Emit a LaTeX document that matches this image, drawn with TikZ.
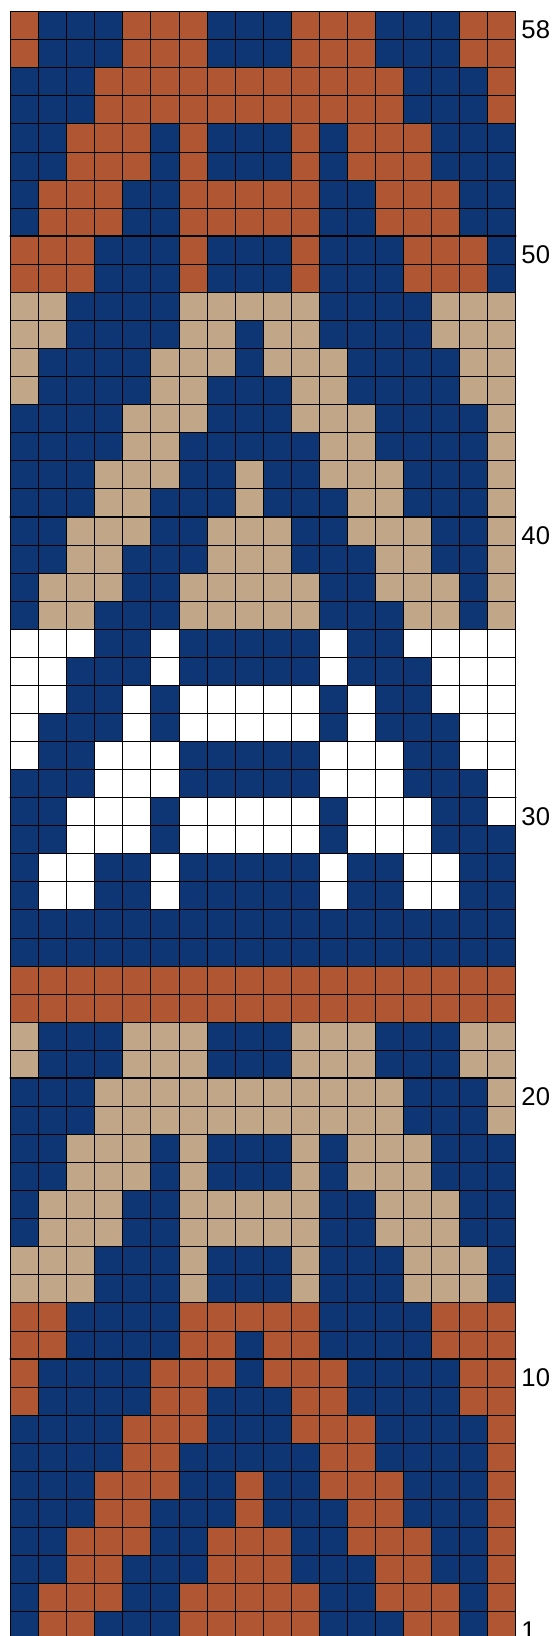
\documentclass[tikz,border=0pt]{standalone}
\usepackage{fontspec}
\setmainfont{Liberation Sans}
\usepackage{tikz}
\usepackage{xcolor}
\definecolor{yarnR}{HTML}{B05633}
\definecolor{yarnN}{HTML}{0E3574}
\definecolor{yarnS}{HTML}{C1A787}
\definecolor{yarnW}{HTML}{FFFFFF}

\begin{document}
\begin{tikzpicture}[scale=1.0, line cap=round, line join=round,
	rowlabel/.style={anchor=base west, inner sep=0pt, font=\fontsize{26}{30}\selectfont}]
	\useasboundingbox (-0.37,0.13) rectangle (19.40,58.41);
	
	% Coloured stitches: row number / colours from left to right
	\foreach \r/\cells in {
		58/{R,N,N,N,R,R,R,N,N,N,R,R,R,N,N,N,R,R},
		57/{R,N,N,N,R,R,R,N,N,N,R,R,R,N,N,N,R,R},
		56/{N,N,N,R,R,R,R,R,R,R,R,R,R,R,N,N,N,R},
		55/{N,N,N,R,R,R,R,R,R,R,R,R,R,R,N,N,N,R},
		54/{N,N,R,R,R,N,R,N,N,N,R,N,R,R,R,N,N,N},
		53/{N,N,R,R,R,N,R,N,N,N,R,N,R,R,R,N,N,N},
		52/{N,R,R,R,N,N,R,R,R,R,R,N,N,R,R,R,N,N},
		51/{N,R,R,R,N,N,R,R,R,R,R,N,N,R,R,R,N,N},
		50/{R,R,R,N,N,N,R,N,N,N,R,N,N,N,R,R,R,N},
		49/{R,R,R,N,N,N,R,N,N,N,R,N,N,N,R,R,R,N},
		48/{S,S,N,N,N,N,S,S,S,S,S,N,N,N,N,S,S,S},
		47/{S,S,N,N,N,N,S,S,N,S,S,N,N,N,N,S,S,S},
		46/{S,N,N,N,N,S,S,S,N,S,S,S,N,N,N,N,S,S},
		45/{S,N,N,N,N,S,S,N,N,N,S,S,N,N,N,N,S,S},
		44/{N,N,N,N,S,S,S,N,N,N,S,S,S,N,N,N,N,S},
		43/{N,N,N,N,S,S,N,N,N,N,N,S,S,N,N,N,N,S},
		42/{N,N,N,S,S,S,N,N,S,N,N,S,S,S,N,N,N,S},
		41/{N,N,N,S,S,N,N,N,S,N,N,N,S,S,N,N,N,S},
		40/{N,N,S,S,S,N,N,S,S,S,N,N,S,S,S,N,N,S},
		39/{N,N,S,S,N,N,N,S,S,S,N,N,N,S,S,N,N,S},
		38/{N,S,S,S,N,N,S,S,S,S,S,N,N,S,S,S,N,S},
		37/{N,S,S,N,N,N,S,S,S,S,S,N,N,N,S,S,N,S},
		36/{W,W,W,N,N,W,N,N,N,N,N,W,N,N,W,W,W,W},
		35/{W,W,N,N,N,W,N,N,N,N,N,W,N,N,N,W,W,W},
		34/{W,W,N,N,W,N,W,W,W,W,W,N,W,N,N,W,W,W},
		33/{W,N,N,N,W,N,W,W,W,W,W,N,W,N,N,N,W,W},
		32/{W,N,N,W,W,W,N,N,N,N,N,W,W,W,N,N,W,W},
		31/{N,N,N,W,W,W,N,N,N,N,N,W,W,W,N,N,N,W},
		30/{N,N,W,W,W,N,W,W,W,W,W,N,W,W,W,N,N,W},
		29/{N,N,W,W,W,N,W,W,W,W,W,N,W,W,W,N,N,N},
		28/{N,W,W,N,N,W,N,N,N,N,N,W,N,N,W,W,N,N},
		27/{N,W,W,N,N,W,N,N,N,N,N,W,N,N,W,W,N,N},
		26/{N,N,N,N,N,N,N,N,N,N,N,N,N,N,N,N,N,N},
		25/{N,N,N,N,N,N,N,N,N,N,N,N,N,N,N,N,N,N},
		24/{R,R,R,R,R,R,R,R,R,R,R,R,R,R,R,R,R,R},
		23/{R,R,R,R,R,R,R,R,R,R,R,R,R,R,R,R,R,R},
		22/{S,N,N,N,S,S,S,N,N,N,S,S,S,N,N,N,S,S},
		21/{S,N,N,N,S,S,S,N,N,N,S,S,S,N,N,N,S,S},
		20/{N,N,N,S,S,S,S,S,S,S,S,S,S,S,N,N,N,S},
		19/{N,N,N,S,S,S,S,S,S,S,S,S,S,S,N,N,N,S},
		18/{N,N,S,S,S,N,S,N,N,N,S,N,S,S,S,N,N,N},
		17/{N,N,S,S,S,N,S,N,N,N,S,N,S,S,S,N,N,N},
		16/{N,S,S,S,N,N,S,S,S,S,S,N,N,S,S,S,N,N},
		15/{N,S,S,S,N,N,S,S,S,S,S,N,N,S,S,S,N,N},
		14/{S,S,S,N,N,N,S,N,N,N,S,N,N,N,S,S,S,N},
		13/{S,S,S,N,N,N,S,N,N,N,S,N,N,N,S,S,S,N},
		12/{R,R,N,N,N,N,R,R,R,R,R,N,N,N,N,R,R,R},
		11/{R,R,N,N,N,N,R,R,N,R,R,N,N,N,N,R,R,R},
		10/{R,N,N,N,N,R,R,R,N,R,R,R,N,N,N,N,R,R},
		9/{R,N,N,N,N,R,R,N,N,N,R,R,N,N,N,N,R,R},
		8/{N,N,N,N,R,R,R,N,N,N,R,R,R,N,N,N,N,R},
		7/{N,N,N,N,R,R,N,N,N,N,N,R,R,N,N,N,N,R},
		6/{N,N,N,R,R,R,N,N,R,N,N,R,R,R,N,N,N,R},
		5/{N,N,N,R,R,N,N,N,R,N,N,N,R,R,N,N,N,R},
		4/{N,N,R,R,R,N,N,R,R,R,N,N,R,R,R,N,N,R},
		3/{N,N,R,R,N,N,N,R,R,R,N,N,N,R,R,N,N,R},
		2/{N,R,R,R,N,N,R,R,R,R,R,N,N,R,R,R,N,R},
		1/{N,R,R,N,N,N,R,R,R,R,R,N,N,N,R,R,N,R}}{
		\foreach \c [count=\x] in \cells
			\fill[fill=yarn\c] (\x-1,\r-1) rectangle (\x,\r);
	}
	
	% Thin grid over all stitches
	\draw[line width=0.6pt] (0,0) grid (18,58);
	
	% Heavier rule every ten rows
	\foreach \y in {10,20,30,40,50}
		\draw[line width=2pt] (0,\y) -- (18,\y);
	
	% Outer frame
	\draw[line width=1.6pt] (0,0) rectangle (18,58);
	
	% Row numbers on the right
	\foreach \r in {58,50,40,30,20,10,1}
		\node[rowlabel] (row\r) at (18.2,\r-0.98) {\r};
\end{tikzpicture}
\end{document}
